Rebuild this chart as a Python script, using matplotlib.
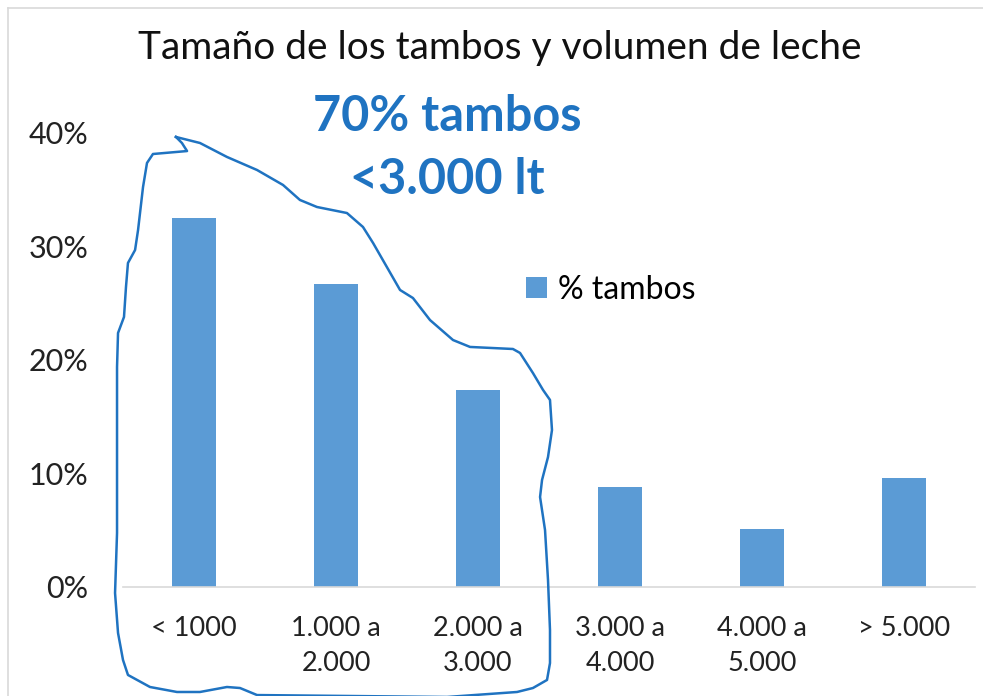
import numpy as np
import matplotlib.pyplot as plt
from matplotlib.lines import Line2D

# data
categories = ['< 1000', '1.000 a\n2.000', '2.000 a\n3.000',
              '3.000 a\n4.000', '4.000 a\n5.000', '> 5.000']
pct_tambos = [32.5, 26.7, 17.4, 8.8, 5.1, 9.6]
yticks = [0, 10, 20, 30, 40]
ytick_labels = ['0%', '10%', '20%', '30%', '40%']

title = 'Tamaño de los tambos y volumen de leche'
series_name = '% tambos'
note = '70% tambos\n<3.000 lt'

# hand-drawn outline around the first three bars (category index, percent)
outline_x = [-0.127, 0.042, 0.232, 0.444, 0.627, 0.746, 0.866, 1.077, 1.190, 1.261,
             1.451, 1.542, 1.662, 1.824, 1.944, 2.246, 2.296, 2.387, 2.458, 2.507,
             2.521, 2.493, 2.451, 2.437, 2.472, 2.493, 2.507, 2.507, 2.486, 2.387,
             2.275, 1.782, 0.444, 0.324, 0.232, 0.042, -0.120, -0.310, -0.465, -0.500,
             -0.535, -0.556, -0.542, -0.542, -0.542, -0.535, -0.493, -0.479, -0.465, -0.415,
             -0.394, -0.359, -0.331, -0.289, -0.049, -0.085, -0.127]
outline_y = [39.65, 39.12, 37.89, 36.74, 35.42, 34.10, 33.48, 32.95, 31.72, 30.31,
             26.17, 25.46, 23.52, 21.76, 21.15, 20.97, 20.62, 18.85, 17.36, 16.48,
             13.83, 11.45, 9.43, 7.93, 5.02, 0.62, -3.79, -6.70, -8.19, -8.90,
             -9.25, -9.69, -9.52, -8.90, -8.81, -9.25, -9.25, -8.81, -7.75, -6.43,
             -4.05, -0.53, 4.76, 13.57, 19.38, 22.38, 23.79, 26.43, 28.55, 29.69,
             31.45, 35.24, 37.36, 38.15, 38.41, 39.12, 39.65]

bar_color = '#5B9BD5'
ink = '#1F73C1'

plt.rcParams['font.family'] = ['Lato', 'DejaVu Sans']

fig = plt.figure(figsize=(9.83, 6.96), dpi=100)
ax = fig.add_axes([123/983, 1 - 587/696, 852/983, 454/696])

x = np.arange(len(categories))
ax.bar(x, pct_tambos, width=0.31, color=bar_color, label=series_name, zorder=2)

ax.set_xlim(-0.5, len(categories) - 0.5)
ax.set_ylim(0, 40)
ax.set_yticks(yticks)
ax.set_yticklabels(ytick_labels, fontsize=22, color='#222222')
ax.set_xticks(x)
ax.set_xticklabels(categories, fontsize=19.5, color='#222222', linespacing=1.5)
ax.tick_params(axis='both', length=0)
ax.tick_params(axis='y', pad=25)
ax.tick_params(axis='x', pad=21)
for s in ['top', 'right', 'left']:
    ax.spines[s].set_visible(False)
ax.spines['bottom'].set_color('#D9D9D9')
ax.spines['bottom'].set_linewidth(1.2)

fig.text(500/983, 1 - 48/696, title, fontsize=28, ha='center', va='center', color='#111111')

ax.legend(loc='upper left', bbox_to_anchor=(497/983, 1 - 246/696), bbox_transform=fig.transFigure,
          frameon=False, fontsize=23, handlelength=0.65, handleheight=0.65, handletextpad=0.35)

# annotation text and outline
ax.text(447/983, 1 - 148/696, note, transform=fig.transFigure, fontsize=35, fontweight='bold',
        color=ink, ha='center', va='center', linespacing=1.5)
ax.plot(outline_x, outline_y, color=ink, lw=1.8, clip_on=False, zorder=3)

# light chart frame (left and top edges)
fig.add_artist(Line2D([8/983, 8/983], [0, 1 - 8/696], color='#D9D9D9', lw=1.2))
fig.add_artist(Line2D([8/983, 1], [1 - 8/696, 1 - 8/696], color='#D9D9D9', lw=1.2))

fig.savefig('out.png', dpi=100)
